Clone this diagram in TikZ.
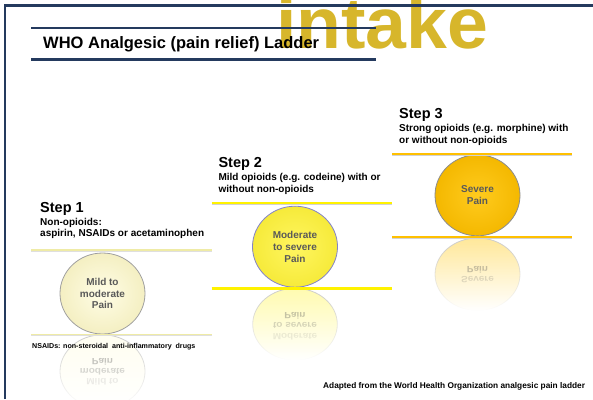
\documentclass[tikz,border=0pt]{standalone}
\usepackage{fontspec}
\setmainfont{Liberation Sans}
\usetikzlibrary{shapes.geometric,fadings}
\definecolor{navy}{HTML}{243A5E}
\definecolor{gold}{HTML}{D7B62B}
\definecolor{cone}{HTML}{FFFDE6}
\definecolor{coneout}{HTML}{F4EFC2}
\definecolor{ctwo}{HTML}{FFF660}
\definecolor{ctwoout}{HTML}{F6EA3A}
\definecolor{cthree}{HTML}{FFCB1E}
\definecolor{cthreeout}{HTML}{F4B800}
\definecolor{lone}{HTML}{EFEBA6}
\definecolor{ltwo}{HTML}{FFF200}
\definecolor{lthree}{HTML}{FFC000}
\definecolor{ctext}{HTML}{595959}
\tikzset{
  steptitle/.style={anchor=base west, inner sep=0pt, font=\fontsize{14.5}{14.5}\selectfont\bfseries},
  stepdesc/.style={anchor=base west, inner sep=0pt, font=\fontsize{10}{11}\selectfont\bfseries},
  painball/.style={ellipse, minimum width=85pt, minimum height=81pt, inner sep=0pt,
     draw=gray!75, line width=0.8pt, shading=radial, align=center, text=ctext,
     font=\fontsize{10}{11.8}\selectfont\bfseries},
  refltext/.style={anchor=base, inner sep=0pt, text=ctext, font=\fontsize{10}{11.8}\selectfont\bfseries},
}
\newcommand\mirline[6]{% name, x, baseline, axis, text, opacity
  \pgfmathsetmacro\myy{#4+(#4-#3)*0.9}
  \begin{scope}[shift={(#2,\myy)}]
    \node[refltext, yscale=-0.9, text opacity=#6] (#1) at (0,0) {#5};
  \end{scope}}
\begin{document}
\begin{tikzpicture}[x=1pt,y=-1pt]
\useasboundingbox (0,0) rectangle (593,399);
\clip (0,0) rectangle (593,399);
% big overlapping word
\node[anchor=base west, inner sep=0pt, text=gold, xscale=1.02,
  font=\fontsize{72}{72}\selectfont\bfseries] (intake) at (276,48.5) {intake};
% frame
\coordinate (fbl) at (5,399);
\coordinate (ftl) at (5,5.5);
\coordinate (ftr) at (593,5.5);
\draw[navy, line width=2.2pt] (fbl) -- (ftl) -- (ftr);
% title
\coordinate (t1a) at (31,27.7); \coordinate (t1b) at (376,27.7);
\coordinate (t2a) at (31,59.3); \coordinate (t2b) at (376,59.3);
\draw[navy, line width=2.4pt] (t1a) -- (t1b);
\draw[navy, line width=2.4pt] (t2a) -- (t2b);
\node[anchor=base west, inner sep=0pt, font=\fontsize{16.5}{16.5}\selectfont\bfseries] (title) at (43,48.3) {WHO Analgesic (pain relief) Ladder};

% ---------- Step 1 ----------
\node[steptitle] (s1) at (40,212.3) {Step 1};
\node[stepdesc] (s1a) at (40,225) {Non-opioids:};
\node[stepdesc] (s1b) at (40,236.7) {aspirin, NSAIDs or acetaminophen};
\fill[cone, path fading=south, fill opacity=0.6] (102.5,371.4) ellipse [x radius=42.5, y radius=36.6];
\draw[gray!40, path fading=south, line width=0.8pt] (102.5,371.4) ellipse [x radius=42.5, y radius=36.6];
\mirline{r1a}{102.5}{307.7}{334.5}{Pain}{0.35}
\mirline{r1b}{102.5}{296.7}{334.5}{moderate}{0.25}
\mirline{r1c}{102.5}{285.1}{334.5}{Mild to}{0.12}
\node[painball, inner color=cone, outer color=coneout] (p1) at (102.5,293.5) {Mild to\\moderate\\Pain};
\coordinate (l1a) at (31,250); \coordinate (l1b) at (212,250);
\coordinate (l1c) at (31,334.5); \coordinate (l1d) at (212,334.5);
\draw[gray!25, line width=1pt] ([yshift=-1.2pt]l1a) -- ([yshift=-1.2pt]l1b);
\draw[lone, line width=1.6pt] (l1a) -- (l1b);
\draw[gray!25, line width=1pt] ([yshift=-1.2pt]l1c) -- ([yshift=-1.2pt]l1d);
\draw[lone, line width=1.6pt] (l1c) -- (l1d);
\node[anchor=base west, inner sep=0pt, font=\fontsize{7.1}{7.1}\selectfont\bfseries] (nsaid) at (32,348) {NSAIDs: non-steroidal\ \ anti-inflammatory\ \ drugs};

% ---------- Step 2 ----------
\node[steptitle] (s2) at (218.3,167.7) {Step 2};
\node[stepdesc] (s2a) at (218.3,180) {Mild opioids (e.g. codeine) with or};
\node[stepdesc] (s2b) at (218.3,192.3) {without non-opioids};
\fill[ctwo, path fading=south, fill opacity=0.5] (295,324.3) ellipse [x radius=42.3, y radius=36];
\draw[gray!40, path fading=south, line width=0.8pt] (295,324.3) ellipse [x radius=42.3, y radius=36];
\mirline{r2a}{295}{261.7}{288.3}{Pain}{0.35}
\mirline{r2b}{295}{250.7}{288.3}{to severe}{0.25}
\mirline{r2c}{295}{238.4}{288.3}{Moderate}{0.12}
\node[painball, draw=gray!60!blue!70, inner color=ctwo, outer color=ctwoout] (p2) at (295,246.7) {Moderate\\to severe\\Pain};
\coordinate (l2a) at (211.7,202.7); \coordinate (l2b) at (392.3,202.7);
\coordinate (l2c) at (211.7,288.3); \coordinate (l2d) at (392.3,288.3);
\draw[gray!35, line width=1pt] ([yshift=-1.6pt]l2a) -- ([yshift=-1.6pt]l2b);
\draw[ltwo, line width=2.4pt] (l2a) -- (l2b);
\draw[gray!35, line width=1pt] ([yshift=-1.6pt]l2c) -- ([yshift=-1.6pt]l2d);
\draw[ltwo, line width=2.4pt] (l2c) -- (l2d);

% ---------- Step 3 ----------
\node[steptitle] (s3) at (399,118.3) {Step 3};
\node[stepdesc] (s3a) at (399,131.7) {Strong opioids (e.g. morphine) with};
\node[stepdesc] (s3b) at (399,143.3) {or without non-opioids};
\fill[cthree, path fading=south, fill opacity=0.45] (477.5,274.3) ellipse [x radius=42.5, y radius=36.3];
\draw[gray!40, path fading=south, line width=0.8pt] (477.5,274.3) ellipse [x radius=42.5, y radius=36.3];
\mirline{r3a}{477.5}{203.4}{236.7}{Pain}{0.35}
\mirline{r3b}{477.5}{192.4}{236.7}{Severe}{0.2}
\node[painball, draw=gray!90, inner color=cthree, outer color=cthreeout] (p3) at (477.5,195.3) {Severe\\Pain};
\coordinate (l3a) at (392.3,154); \coordinate (l3b) at (572.3,154);
\coordinate (l3c) at (392.3,236.7); \coordinate (l3d) at (572.3,236.7);
\draw[gray!35, line width=1pt] ([yshift=-1.6pt]l3a) -- ([yshift=-1.6pt]l3b);
\draw[lthree, line width=2.4pt] (l3a) -- (l3b);
\draw[gray!35, line width=1pt] ([yshift=-1.6pt]l3c) -- ([yshift=-1.6pt]l3d);
\draw[lthree, line width=2.4pt] (l3c) -- (l3d);

% footer
\node[anchor=base west, inner sep=0pt, font=\fontsize{8.3}{8.3}\selectfont\bfseries] (src) at (323,388.5) {Adapted from the World Health Organization analgesic pain ladder};
\end{tikzpicture}
\end{document}
